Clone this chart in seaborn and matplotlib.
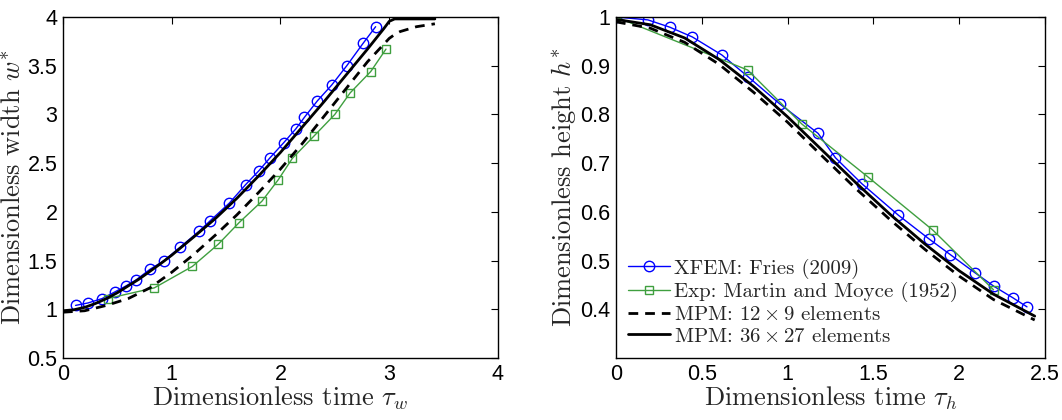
import numpy as np
import pandas as pd
import matplotlib
matplotlib.use("Agg")
import matplotlib.pyplot as plt
import seaborn as sns

# ---- Left panel: width ----
w_xfem_t = [0.116, 0.23, 0.36, 0.48, 0.58, 0.67, 0.80, 0.93, 1.08, 1.25, 1.355, 1.53, 1.68,
            1.80, 1.90, 2.03, 2.14, 2.22, 2.34, 2.47, 2.61, 2.76, 2.875]
w_xfem = [1.04, 1.065, 1.11, 1.18, 1.24, 1.30, 1.41, 1.50, 1.64, 1.80, 1.91, 2.09, 2.28,
          2.42, 2.55, 2.71, 2.85, 2.97, 3.14, 3.30, 3.50, 3.73, 3.90]
w_exp_t = [0.41, 0.84, 1.19, 1.43, 1.62, 1.83, 1.98, 2.11, 2.31, 2.50, 2.64, 2.83, 2.97]
w_exp = [1.11, 1.22, 1.44, 1.67, 1.89, 2.11, 2.33, 2.55, 2.78, 3.00, 3.22, 3.44, 3.67]
w_coarse_t = [0.0, 0.2, 0.4, 0.6, 0.8, 1.0, 1.2, 1.4, 1.6, 1.8, 2.0, 2.2, 2.4, 2.6, 2.8,
              2.95, 3.0, 3.05, 3.1, 3.25, 3.42]
w_coarse = [0.97, 0.985, 1.04, 1.11, 1.22, 1.38, 1.56, 1.76, 1.97, 2.20, 2.44, 2.70, 2.98,
            3.26, 3.54, 3.72, 3.78, 3.82, 3.85, 3.90, 3.93]
w_fine_t = [0.0, 0.1, 0.2, 0.3, 0.4, 0.5, 0.6, 0.7, 0.8, 0.9, 1.0, 1.2, 1.4, 1.6, 1.8, 2.0,
            2.2, 2.4, 2.6, 2.8, 2.9, 2.95, 3.0, 3.05, 3.42]
w_fine = [0.985, 0.995, 1.02, 1.06, 1.11, 1.17, 1.24, 1.31, 1.39, 1.47, 1.555, 1.74, 1.93, 2.14,
          2.37, 2.61, 2.87, 3.13, 3.40, 3.67, 3.81, 3.88, 3.955, 3.98, 3.98]

# ---- Right panel: height ----
h_xfem_t = [0.0, 0.186, 0.314, 0.445, 0.617, 0.771, 0.953, 1.178, 1.279, 1.432, 1.646, 1.822,
            1.949, 2.092, 2.203, 2.311, 2.395]
h_xfem = [1.0, 0.994, 0.979, 0.959, 0.922, 0.877, 0.822, 0.761, 0.711, 0.658, 0.593, 0.545,
          0.512, 0.475, 0.447, 0.424, 0.405]
h_exp_t = [0.0, 0.768, 1.084, 1.467, 1.848, 2.20]
h_exp = [1.0, 0.891, 0.78, 0.672, 0.562, 0.44]
h_coarse_t = [0.0, 0.2, 0.4, 0.6, 0.8, 1.0, 1.2, 1.4, 1.6, 1.8, 2.0, 2.2, 2.44]
h_coarse = [0.99, 0.977, 0.948, 0.903, 0.846, 0.784, 0.715, 0.647, 0.583, 0.523, 0.468, 0.42, 0.378]
h_fine_t = [0.0, 0.2, 0.4, 0.6, 0.8, 1.0, 1.2, 1.4, 1.6, 1.8, 2.0, 2.2, 2.44]
h_fine = [0.995, 0.984, 0.957, 0.913, 0.858, 0.795, 0.727, 0.659, 0.594, 0.534, 0.479, 0.431, 0.386]

labels = ["XFEM: Fries (2009)", "Exp: Martin and Moyce (1952)",
          r"MPM: $12\times9$ elements", r"MPM: $36\times27$ elements"]

sns.set_theme(style="white")
plt.rcParams["font.family"] = ["Liberation Sans", "DejaVu Sans"]
plt.rcParams["mathtext.fontset"] = "cm"
plt.rcParams["axes.unicode_minus"] = False

BLUE = "#0000ff"
GREEN = "#3f9f3f"

fig = plt.figure(figsize=(10.62, 4.2), dpi=100)
axL = fig.add_axes([0.0593, 0.1476, 0.4096, 0.812])
axR = fig.add_axes([0.580, 0.1476, 0.404, 0.812])

serif = dict(family="cmr10", size=19)


def draw(ax, xf, yf, xe, ye, xc, yc, xs, ys):
    sns.lineplot(x=xf, y=yf, ax=ax, color=BLUE, lw=1.0, marker="o", markersize=7.5,
                 markerfacecolor="none", markeredgecolor=BLUE, markeredgewidth=1.0,
                 sort=False, estimator=None, label=labels[0])
    sns.lineplot(x=xe, y=ye, ax=ax, color=GREEN, lw=1.0, marker="s", markersize=5.5,
                 markerfacecolor="none", markeredgecolor=GREEN, markeredgewidth=1.0,
                 sort=False, estimator=None, label=labels[1])
    sns.lineplot(x=xc, y=yc, ax=ax, color="black", lw=2.0, linestyle=(0, (3.5, 2.5)),
                 sort=False, estimator=None, label=labels[2])
    sns.lineplot(x=xs, y=ys, ax=ax, color="black", lw=2.0,
                 sort=False, estimator=None, label=labels[3])
    for s in ax.spines.values():
        s.set_color("black")
        s.set_linewidth(1.0)
    ax.tick_params(direction="in", top=True, right=True, length=5, width=0.8,
                   labelsize=15.5, colors="black", pad=4)


draw(axL, w_xfem_t, w_xfem, w_exp_t, w_exp, w_coarse_t, w_coarse, w_fine_t, w_fine)
axL.set_xlim(0, 4)
axL.set_ylim(0.5, 4)
axL.set_xticks([0, 1, 2, 3, 4])
axL.set_yticks([0.5, 1, 1.5, 2, 2.5, 3, 3.5, 4])
axL.set_yticklabels(["0.5", "1", "1.5", "2", "2.5", "3", "3.5", "4"])
axL.set_xlabel(r"Dimensionless time $\tau_w$", fontdict=serif, labelpad=0)
axL.set_ylabel(r"Dimensionless width $w^{*}$", fontdict=serif, labelpad=2)
axL.get_legend().remove()

draw(axR, h_xfem_t, h_xfem, h_exp_t, h_exp, h_coarse_t, h_coarse, h_fine_t, h_fine)
axR.set_xlim(0, 2.5)
axR.set_ylim(0.3, 1.0)
axR.set_xticks([0, 0.5, 1, 1.5, 2, 2.5])
axR.set_xticklabels(["0", "0.5", "1", "1.5", "2", "2.5"])
axR.set_yticks([0.4, 0.5, 0.6, 0.7, 0.8, 0.9, 1.0])
axR.set_yticklabels(["0.4", "0.5", "0.6", "0.7", "0.8", "0.9", "1"])
axR.set_xlabel(r"Dimensionless time $\tau_h$", fontdict=serif, labelpad=0)
axR.set_ylabel(r"Dimensionless height $h^{*}$", fontdict=serif, labelpad=2)
leg = axR.legend(loc="lower left", frameon=False, prop={"family": "cmr10", "size": 15},
                 handlelength=2.0, handletextpad=0.2, labelspacing=0.15,
                 borderaxespad=0.2, bbox_to_anchor=(0.0, 0.0))

fig.savefig("out.png", dpi=100)
